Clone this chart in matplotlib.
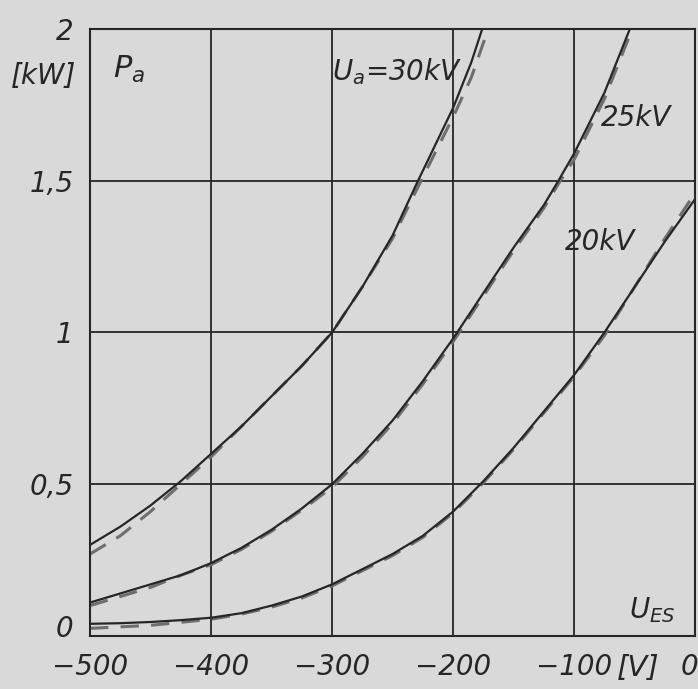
import matplotlib
matplotlib.use("Agg")
import matplotlib.pyplot as plt
import matplotlib.transforms as mtransforms

# grid voltage U_ES [V]
u_es = [-500, -475, -450, -425, -400, -375, -350, -325, -300,
        -275, -250, -225, -200, -175, -150, -125, -100, -75, -50, -25, 0]

# anode dissipation P_a [kW]
p30_x = [-500, -475, -450, -425, -400, -375, -350, -325, -300,
         -275, -250, -229, -200, -185, -176]
p30 = [0.30, 0.36, 0.43, 0.51, 0.60, 0.69, 0.79, 0.89, 1.00,
       1.15, 1.32, 1.50, 1.74, 1.89, 2.00]
p30d_x = [-500, -475, -450, -425, -400, -375, -350, -325, -300,
          -275, -250, -229, -200, -185, -171]
p30d = [0.27, 0.33, 0.41, 0.50, 0.59, 0.69, 0.79, 0.89, 1.00,
        1.15, 1.31, 1.48, 1.71, 1.84, 2.00]

p25_x = [-500, -475, -450, -425, -400, -375, -350, -325, -300, -275,
         -250, -225, -200, -175, -150, -125, -113, -100, -75, -54]
p25 = [0.11, 0.14, 0.17, 0.20, 0.24, 0.29, 0.35, 0.42, 0.50, 0.60,
       0.71, 0.84, 0.98, 1.13, 1.28, 1.42, 1.50, 1.59, 1.79, 2.00]
p25d_x = [-500, -475, -450, -425, -400, -375, -350, -325, -300, -275,
          -250, -225, -200, -175, -150, -125, -113, -100, -75, -52]
p25d = [0.10, 0.13, 0.16, 0.20, 0.235, 0.285, 0.345, 0.415, 0.49, 0.59,
        0.70, 0.83, 0.97, 1.12, 1.27, 1.41, 1.49, 1.57, 1.77, 2.00]

p20 = [0.04, 0.042, 0.046, 0.052, 0.06, 0.075, 0.10, 0.13, 0.17, 0.22,
       0.27, 0.33, 0.41, 0.51, 0.62, 0.74, 0.86, 1.00, 1.15, 1.30, 1.44]
p20d = [0.025, 0.03, 0.035, 0.045, 0.055, 0.072, 0.095, 0.125, 0.165, 0.215,
        0.265, 0.325, 0.405, 0.505, 0.615, 0.735, 0.855, 0.99, 1.15, 1.31, 1.46]

x_ticks = [-500, -400, -300, -200, -100, 0]
x_labels = ["\u2212500", "\u2212400", "\u2212300", "\u2212200", "\u2212100", "0"]
y_ticks = [0, 0.5, 1, 1.5, 2]
y_labels = ["0", "0,5", "1", "1,5", "2"]

bg = "#d9d9d9"
ink = "#262626"
plt.rcParams["font.family"] = ["DejaVu Sans"]

fig = plt.figure(figsize=(6.98, 6.89), dpi=100, facecolor=bg)
ax = fig.add_axes([0.129, 0.077, 0.867, 0.881], facecolor=bg)

ax.plot(p30d_x, p30d, color="#6e6e6e", lw=2.2, dashes=(6, 4))
ax.plot(p25d_x, p25d, color="#6e6e6e", lw=2.2, dashes=(6, 4))
ax.plot(u_es, p20d, color="#6e6e6e", lw=2.2, dashes=(6, 4))
ax.plot(p30_x, p30, color=ink, lw=1.6)
ax.plot(p25_x, p25, color=ink, lw=1.6)
ax.plot(u_es, p20, color=ink, lw=1.6)

ax.set_xlim(-500, 0)
ax.set_ylim(0, 2)
ax.set_xticks(x_ticks)
ax.set_xticklabels(x_labels)
ax.set_yticks(y_ticks)
ax.set_yticklabels(y_labels)
ax.tick_params(length=0, labelsize=20, colors=ink)
ax.tick_params(axis="x", pad=12)
ax.tick_params(axis="y", pad=12)
for lab in ax.get_xticklabels() + ax.get_yticklabels():
    lab.set_fontstyle("italic")
# last x label sits at the right edge, first y label a bit raised
ax.get_xticklabels()[-1].set_horizontalalignment("right")
ax.get_xticklabels()[-1].set_transform(
    ax.get_xticklabels()[-1].get_transform()
    + mtransforms.ScaledTranslation(0.03, 0, fig.dpi_scale_trans))
ax.get_yticklabels()[0].set_transform(
    ax.get_yticklabels()[0].get_transform()
    + mtransforms.ScaledTranslation(0, 0.1, fig.dpi_scale_trans))
ax.grid(True, color=ink, lw=1.3)
for s in ax.spines.values():
    s.set_color(ink)
    s.set_linewidth(1.5)

ax.text(-481, 1.84, r"$P_a$", fontsize=22, style="italic", color=ink)
ax.text(-300, 1.83, r"$U_{a}$=30kV", fontsize=20, style="italic", color=ink)
ax.text(-78, 1.68, "25kV", fontsize=20, style="italic", color=ink)
ax.text(-108, 1.27, "20kV", fontsize=20, style="italic", color=ink)
ax.text(-55, 0.06, r"$U_{ES}$", fontsize=20, style="italic", color=ink)
ax.text(-47, -0.105, "[V]", fontsize=21, style="italic", color=ink,
        ha="center", va="center", clip_on=False)
fig.text(0.062, 0.89, "[kW]", fontsize=20, style="italic", color=ink,
         ha="center", va="center")

fig.savefig("out.png", dpi=100, facecolor=bg)
